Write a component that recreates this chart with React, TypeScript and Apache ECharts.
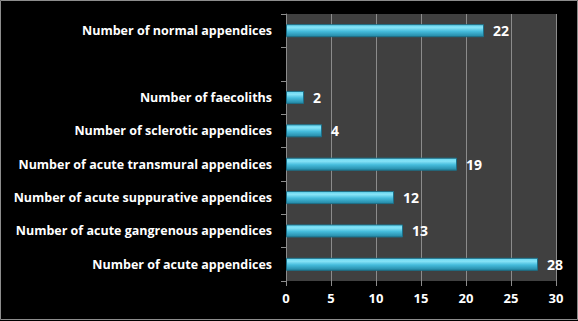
import React, { useEffect, useRef } from "react";
import * as echarts from "echarts";

const categories = [
  "Number of acute appendices",
  "Number of acute gangrenous appendices",
  "Number of acute suppurative appendices",
  "Number of acute transmural appendices",
  "Number of sclerotic appendices",
  "Number of faecoliths",
  " ",
  "Number of normal appendices",
];
const values: (number | null)[] = [28, 13, 12, 19, 4, 2, null, 22];
const xTicks = [0, 5, 10, 15, 20, 25, 30];

export default function App() {
  const ref = useRef<HTMLDivElement>(null);
  useEffect(() => {
    document.body.style.margin = "0";
    const chart = echarts.init(ref.current!, null, { renderer: "svg" });
    const font = "Open Sans";
    chart.setOption({
      animation: false,
      backgroundColor: "#000000",
      graphic: [
        {
          type: "rect",
          shape: { x: 0.5, y: 0.5, width: 577, height: 319 },
          style: { fill: "none", stroke: "#8c8c8c", lineWidth: 1 },
          silent: true,
        },
      ],
      grid: {
        left: 286,
        right: 22,
        top: 14,
        bottom: 40,
        show: true,
        backgroundColor: "#404040",
        borderWidth: 0,
      },
      xAxis: {
        type: "value",
        min: xTicks[0],
        max: xTicks[xTicks.length - 1],
        interval: 5,
        axisLine: { show: false },
        axisTick: { show: true, length: 5, lineStyle: { color: "#8c8c8c" } },
        splitLine: { show: true, lineStyle: { color: "#8c8c8c", width: 1 } },
        axisLabel: {
          color: "#ffffff",
          fontFamily: font,
          fontWeight: "bold",
          fontSize: 13,
          margin: 10,
        },
      },
      yAxis: {
        type: "category",
        data: categories,
        axisLine: { show: true, lineStyle: { color: "#8c8c8c" } },
        axisTick: { show: true, length: 5, lineStyle: { color: "#8c8c8c" } },
        axisLabel: {
          color: "#ffffff",
          fontFamily: font,
          fontWeight: "bold",
          fontSize: 12.5,
          margin: 14,
        },
      },
      series: [
        {
          type: "bar",
          data: values.map((v) => (v === null ? "-" : v)),
          barWidth: 13,
          itemStyle: {
            color: new echarts.graphic.LinearGradient(0, 0, 0, 1, [
              { offset: 0, color: "#66d6f0" },
              { offset: 0.25, color: "#86e3f7" },
              { offset: 0.55, color: "#45bcdc" },
              { offset: 1, color: "#2386a3" },
            ]),
            borderColor: "#1d7089",
            borderWidth: 1,
          },
          label: {
            show: true,
            position: "right",
            distance: 9,
            color: "#ffffff",
            fontFamily: font,
            fontWeight: "bold",
            fontSize: 14,
            formatter: (p: any) =>
              p.value === "-" || p.value == null ? "" : String(p.value),
          },
        },
      ],
    });
    return () => chart.dispose();
  }, []);
  return (
    <div
      ref={ref}
      style={{ position: "absolute", left: 0, top: 0, width: 578, height: 321 }}
    />
  );
}
